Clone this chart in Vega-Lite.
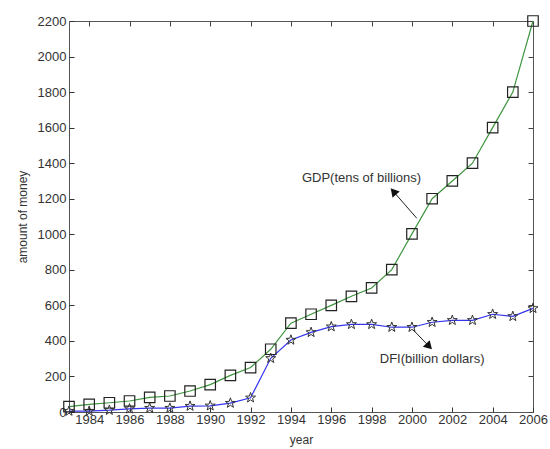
{
  "$schema": "https://vega.github.io/schema/vega-lite/v6.json",
  "width": 464,
  "height": 391,
  "autosize": "none",
  "padding": {"left": 69, "top": 21, "right": 17, "bottom": 37},
  "background": "white",
  "config": {
    "font": "Liberation Sans",
    "view": {"stroke": "#555", "strokeWidth": 1},
    "axis": {"grid": false, "domain": false, "tickColor": "#333", "labelColor": "#333", "titleColor": "#333", "labelFont": "Liberation Sans", "titleFont": "Liberation Sans", "titleFontWeight": "normal"}
  },
  "datasets": {
    "series": [
      {"year": 1983, "value": 30, "series": "GDP"},
      {"year": 1984, "value": 43, "series": "GDP"},
      {"year": 1985, "value": 52, "series": "GDP"},
      {"year": 1986, "value": 62, "series": "GDP"},
      {"year": 1987, "value": 82, "series": "GDP"},
      {"year": 1988, "value": 90, "series": "GDP"},
      {"year": 1989, "value": 118, "series": "GDP"},
      {"year": 1990, "value": 154, "series": "GDP"},
      {"year": 1991, "value": 206, "series": "GDP"},
      {"year": 1992, "value": 250, "series": "GDP"},
      {"year": 1993, "value": 353, "series": "GDP"},
      {"year": 1994, "value": 500, "series": "GDP"},
      {"year": 1995, "value": 550, "series": "GDP"},
      {"year": 1996, "value": 600, "series": "GDP"},
      {"year": 1997, "value": 651, "series": "GDP"},
      {"year": 1998, "value": 698, "series": "GDP"},
      {"year": 1999, "value": 801, "series": "GDP"},
      {"year": 2000, "value": 1002, "series": "GDP"},
      {"year": 2001, "value": 1200, "series": "GDP"},
      {"year": 2002, "value": 1300, "series": "GDP"},
      {"year": 2003, "value": 1400, "series": "GDP"},
      {"year": 2004, "value": 1600, "series": "GDP"},
      {"year": 2005, "value": 1800, "series": "GDP"},
      {"year": 2006, "value": 2200, "series": "GDP"},
      {"year": 1983, "value": 5, "series": "DFI"},
      {"year": 1984, "value": 5, "series": "DFI"},
      {"year": 1985, "value": 10, "series": "DFI"},
      {"year": 1986, "value": 18, "series": "DFI"},
      {"year": 1987, "value": 22, "series": "DFI"},
      {"year": 1988, "value": 22, "series": "DFI"},
      {"year": 1989, "value": 33, "series": "DFI"},
      {"year": 1990, "value": 35, "series": "DFI"},
      {"year": 1991, "value": 50, "series": "DFI"},
      {"year": 1992, "value": 80, "series": "DFI"},
      {"year": 1993, "value": 302, "series": "DFI"},
      {"year": 1994, "value": 405, "series": "DFI"},
      {"year": 1995, "value": 448, "series": "DFI"},
      {"year": 1996, "value": 480, "series": "DFI"},
      {"year": 1997, "value": 493, "series": "DFI"},
      {"year": 1998, "value": 493, "series": "DFI"},
      {"year": 1999, "value": 477, "series": "DFI"},
      {"year": 2000, "value": 477, "series": "DFI"},
      {"year": 2001, "value": 505, "series": "DFI"},
      {"year": 2002, "value": 516, "series": "DFI"},
      {"year": 2003, "value": 516, "series": "DFI"},
      {"year": 2004, "value": 550, "series": "DFI"},
      {"year": 2005, "value": 538, "series": "DFI"},
      {"year": 2006, "value": 583, "series": "DFI"}
    ],
    "arrows": [
      {"x1": 2000.24, "y1": 1090, "x2": 1999.08, "y2": 1241, "angle": 319},
      {"x1": 2000.07, "y1": 461, "x2": 2000.85, "y2": 369, "angle": 136}
    ],
    "labels": [
      {"year": 1997.5, "value": 1315, "text": "GDP(tens of billions)"},
      {"year": 2001.0, "value": 296, "text": "DFI(billion dollars)"}
    ]
  },
  "resolve": {"axis": {"x": "independent", "y": "independent"}},
  "layer": [
    {
      "data": {"name": "series"},
      "transform": [{"filter": "datum.series == 'GDP'"}],
      "mark": {"type": "line", "color": "#3f953f", "strokeWidth": 1.2},
      "encoding": {
        "x": {"field": "year", "type": "quantitative", "scale": {"domain": [1983, 2006], "nice": false, "zero": false},
          "axis": {"orient": "bottom", "title": "year", "values": [1984, 1986, 1988, 1990, 1992, 1994, 1996, 1998, 2000, 2002, 2004, 2006], "labelExpr": "'' + datum.value", "offset": -5, "tickSize": 5, "labelPadding": 1, "labelFontSize": 13, "titleFontSize": 12, "titlePadding": 8, "labelFlush": false, "labelOverlap": false}},
        "y": {"field": "value", "type": "quantitative", "scale": {"domain": [0, 2200], "nice": false},
          "axis": {"orient": "left", "title": "amount of money", "values": [0, 200, 400, 600, 800, 1000, 1200, 1400, 1600, 1800, 2000, 2200], "labelExpr": "'' + datum.value", "offset": -5, "tickSize": 5, "labelPadding": 3, "labelFontSize": 13, "titleFontSize": 12, "titlePadding": 8, "labelFlush": false, "labelOverlap": false}}
      }
    },
    {
      "data": {"name": "series"},
      "transform": [{"filter": "datum.series == 'DFI'"}],
      "mark": {"type": "line", "color": "#3535f0", "strokeWidth": 1.2},
      "encoding": {
        "x": {"field": "year", "type": "quantitative",
          "axis": {"orient": "top", "title": null, "labels": false, "values": [1984, 1986, 1988, 1990, 1992, 1994, 1996, 1998, 2000, 2002, 2004, 2006], "offset": -5, "tickSize": 5, "tickColor": "#444"}},
        "y": {"field": "value", "type": "quantitative",
          "axis": {"orient": "right", "title": null, "labels": false, "values": [0, 200, 400, 600, 800, 1000, 1200, 1400, 1600, 1800, 2000, 2200], "offset": -5, "tickSize": 5, "tickColor": "#444"}}
      }
    },
    {
      "data": {"name": "series"},
      "transform": [{"filter": "datum.series == 'GDP'"}],
      "mark": {"type": "point", "shape": "square", "filled": false, "stroke": "#222", "strokeWidth": 1.2, "size": 110, "opacity": 1},
      "encoding": {
        "x": {"field": "year", "type": "quantitative", "axis": null},
        "y": {"field": "value", "type": "quantitative", "axis": null}
      }
    },
    {
      "data": {"name": "series"},
      "transform": [{"filter": "datum.series == 'DFI'"}],
      "mark": {"type": "point", "shape": "M0,-1L0.235,-0.324L0.951,-0.309L0.38,0.124L0.588,0.809L0,0.4L-0.588,0.809L-0.38,0.124L-0.951,-0.309L-0.235,-0.324Z", "filled": false, "stroke": "#333", "strokeWidth": 1, "size": 110, "opacity": 1},
      "encoding": {
        "x": {"field": "year", "type": "quantitative", "axis": null},
        "y": {"field": "value", "type": "quantitative", "axis": null}
      }
    },
    {
      "data": {"name": "labels"},
      "mark": {"type": "text", "fontSize": 13, "color": "#333", "align": "center", "baseline": "middle"},
      "encoding": {
        "x": {"field": "year", "type": "quantitative", "axis": null},
        "y": {"field": "value", "type": "quantitative", "axis": null},
        "text": {"field": "text"}
      }
    },
    {
      "data": {"name": "arrows"},
      "mark": {"type": "rule", "color": "#222", "strokeWidth": 1},
      "encoding": {
        "x": {"field": "x1", "type": "quantitative", "axis": null},
        "y": {"field": "y1", "type": "quantitative", "axis": null},
        "x2": {"field": "x2"},
        "y2": {"field": "y2"}
      }
    },
    {
      "data": {"name": "arrows"},
      "mark": {"type": "point", "shape": "triangle-up", "filled": true, "color": "#111", "size": 90, "opacity": 1},
      "encoding": {
        "x": {"field": "x2", "type": "quantitative", "axis": null},
        "y": {"field": "y2", "type": "quantitative", "axis": null},
        "angle": {"field": "angle", "type": "quantitative", "scale": null}
      }
    }
  ]
}
